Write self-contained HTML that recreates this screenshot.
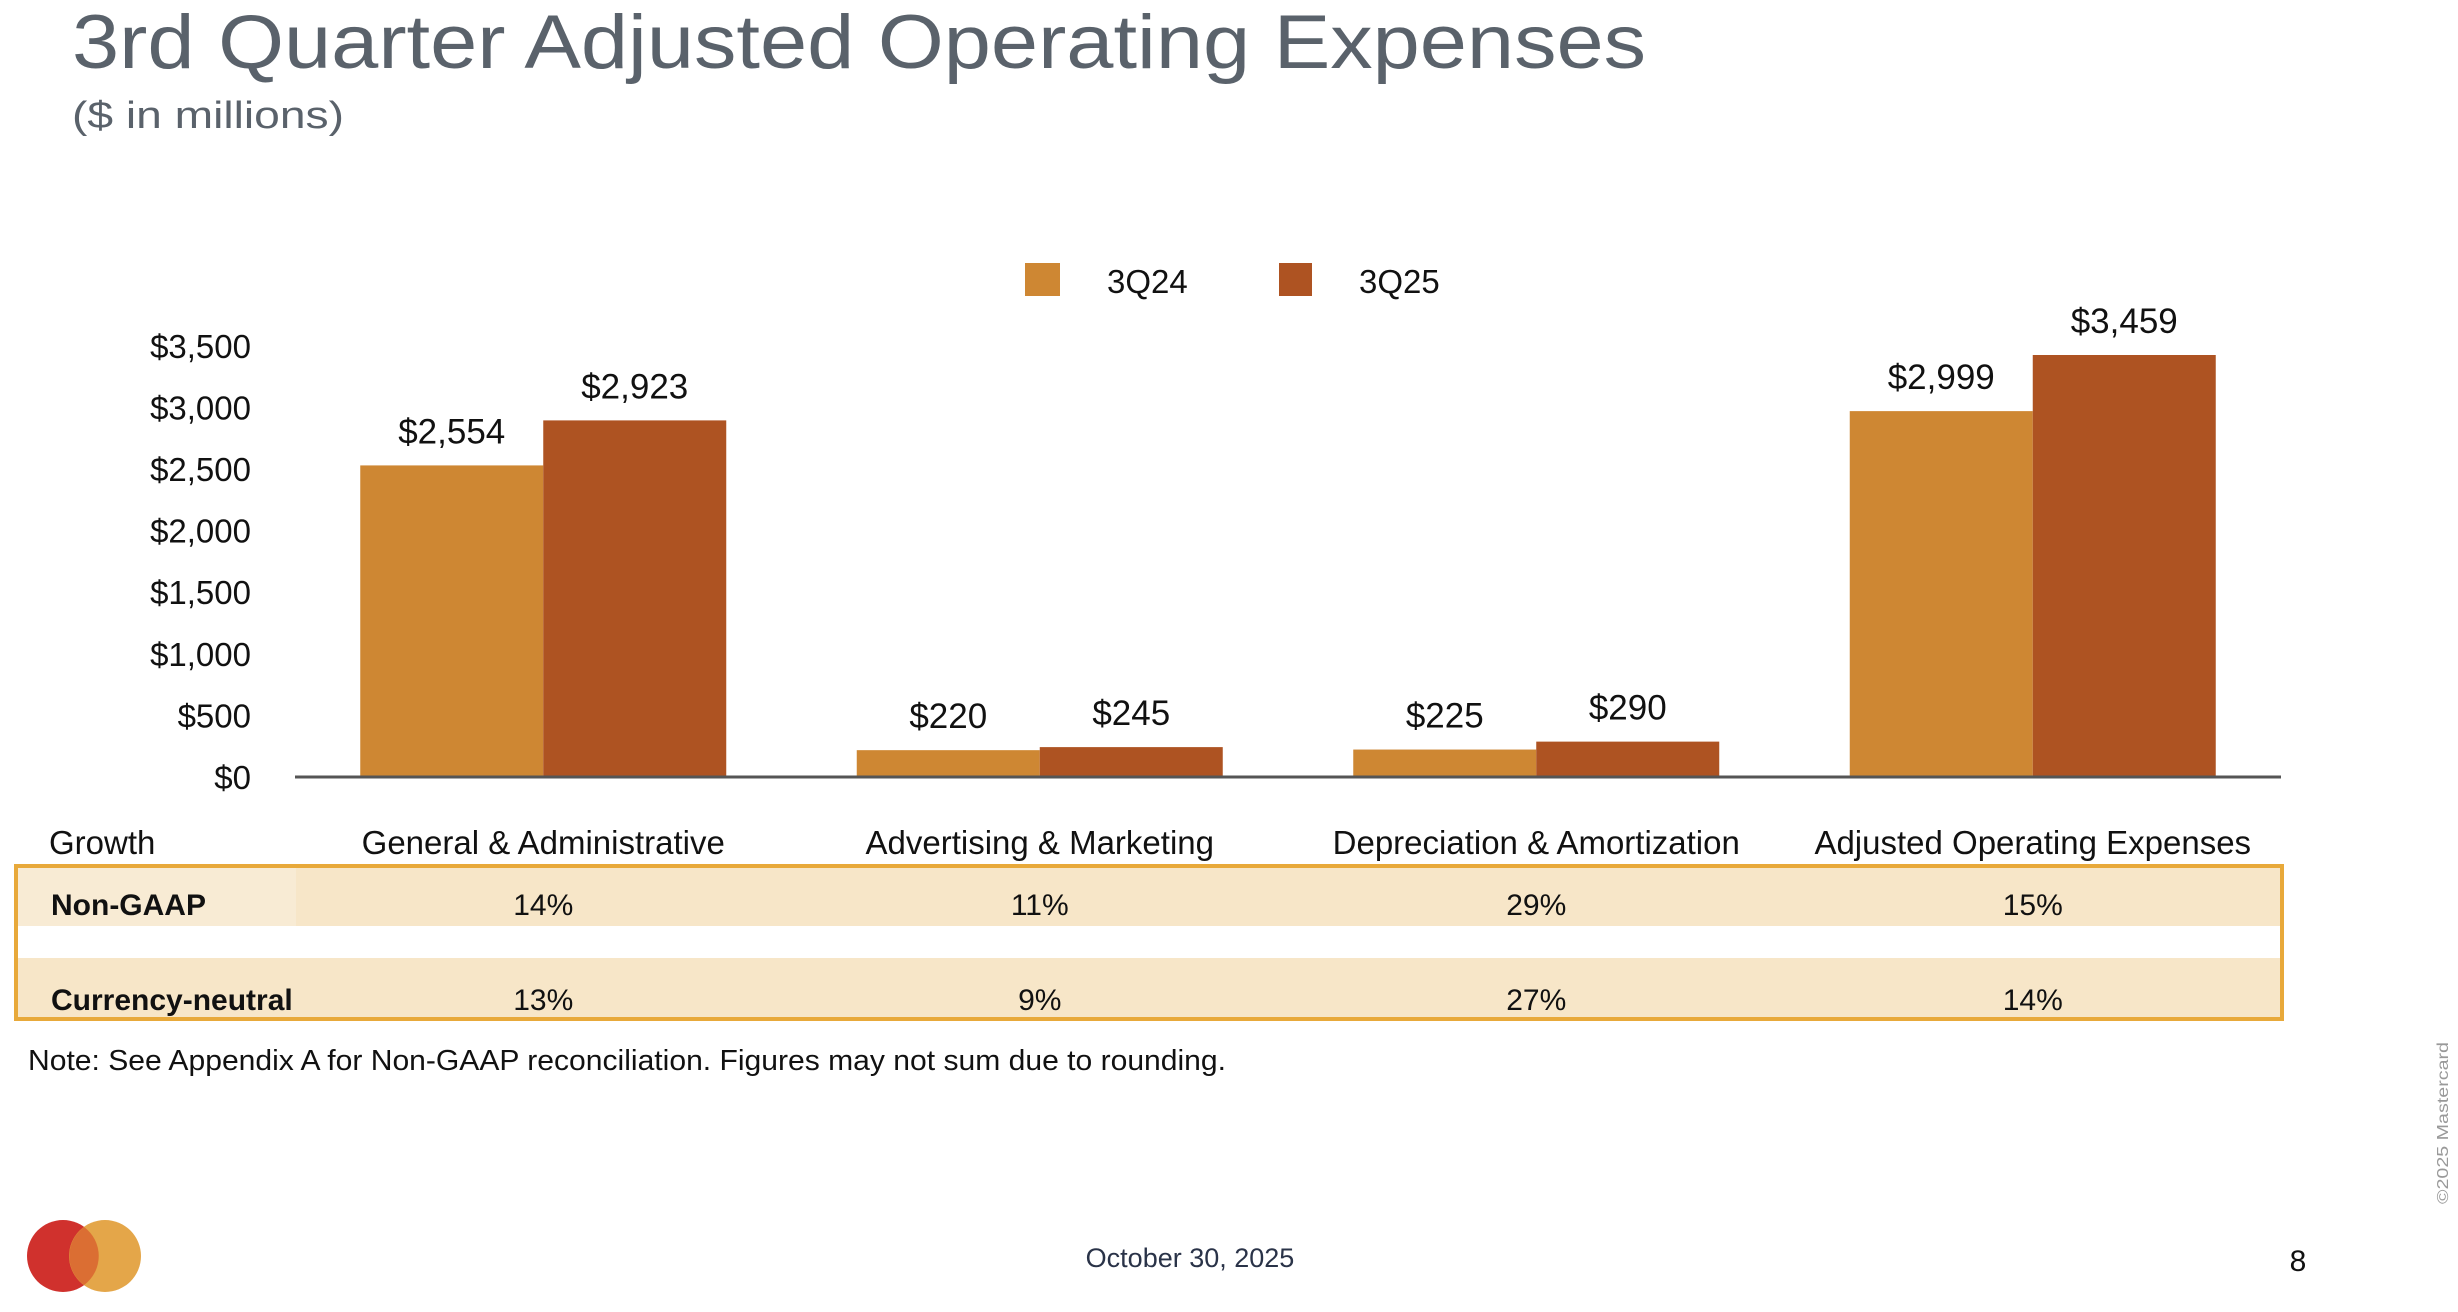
<!DOCTYPE html>
<html><head><meta charset="utf-8"><style>
html,body{margin:0;padding:0;background:#fff;}
svg{display:block;font-family:"Liberation Sans",sans-serif;}
</style></head><body>
<svg id="chart" width="2458" height="1312" viewBox="0 0 2458 1312" xmlns="http://www.w3.org/2000/svg">
<text x="72" y="68" font-size="76" fill="#5a626b" textLength="1574" lengthAdjust="spacingAndGlyphs">3rd Quarter Adjusted Operating Expenses</text>
<text x="72" y="128" font-size="38" fill="#5a626b" textLength="272" lengthAdjust="spacingAndGlyphs">($ in millions)</text>
<g>
<rect x="1025" y="263" width="35" height="33" fill="#CE8733"/>
<text x="1107" y="293" font-size="33" fill="#111">3Q24</text>
<rect x="1279" y="263" width="33" height="33" fill="#AE5322"/>
<text x="1359" y="293" font-size="33" fill="#111">3Q25</text>
</g>
<g>
<text x="49" y="854" font-size="33" fill="#111">Growth</text>
<rect x="16" y="866" width="2266" height="60" fill="#F7E6C8"/>
<rect x="16" y="866" width="280" height="60" fill="#F8EBD4"/>
<rect x="16" y="958" width="2266" height="61" fill="#F7E6C8"/>
<rect x="16" y="866" width="2266" height="153" fill="none" stroke="#E8A93A" stroke-width="4"/>
<text x="51" y="915" font-size="30" font-weight="bold" fill="#111">Non-GAAP</text>
<text x="51" y="1010" font-size="30" font-weight="bold" fill="#111">Currency-neutral</text>
</g>
<g id="plot"></g>
<text x="28" y="1070" font-size="29" fill="#111" textLength="1198" lengthAdjust="spacingAndGlyphs">Note: See Appendix A for Non-GAAP reconciliation. Figures may not sum due to rounding.</text>
<g>
<circle cx="63" cy="1256" r="36" fill="#D0312D"/>
<circle cx="105" cy="1256" r="36" fill="#E3A13F" opacity="0.95"/>
<path d="M84 1227 A36 36 0 0 1 84 1285 A36 36 0 0 1 84 1227Z" fill="#DB6E33"/>
</g>
<text x="1190" y="1267" font-size="27" fill="#2a3348" text-anchor="middle">October 30, 2025</text>
<text x="2298" y="1271" font-size="30" fill="#111" text-anchor="middle">8</text>
<text x="0" y="0" font-size="16" fill="#999" transform="translate(2448,1204) rotate(-90)" textLength="162" lengthAdjust="spacingAndGlyphs">©2025 Mastercard</text>
</svg>
<script>
const categories = ["General & Administrative","Advertising & Marketing","Depreciation & Amortization","Adjusted Operating Expenses"];
const series3Q24 = [2554, 220, 225, 2999];
const series3Q25 = [2923, 245, 290, 3459];
const valueLabels3Q24 = ["$2,554","$220","$225","$2,999"];
const valueLabels3Q25 = ["$2,923","$245","$290","$3,459"];
const yTicks = [0, 500, 1000, 1500, 2000, 2500, 3000, 3500];
const yTickLabels = ["$0","$500","$1,000","$1,500","$2,000","$2,500","$3,000","$3,500"];
const growthNonGaap = ["14%","11%","29%","15%"];
const growthCurrencyNeutral = ["13%","9%","27%","14%"];

const NS = "http://www.w3.org/2000/svg";
const plot = document.getElementById("plot");
const x0 = 295, x1 = 2281, yBase = 777, pxPer = 61.0/500, barW = 183;
const bandW = (x1 - x0) / categories.length;
const yScale = v => yBase - v * pxPer;
const xCenter = i => x0 + bandW * (i + 0.5);
function mk(tag, attrs, txt) {
  const e = document.createElementNS(NS, tag);
  for (const k in attrs) e.setAttribute(k, attrs[k]);
  if (txt !== undefined) e.textContent = txt;
  plot.appendChild(e);
  return e;
}
yTicks.forEach((t, i) => {
  const e = mk("text", {x: 251, y: yBase - t * (61.6/500) + 12, "font-size": 33, fill: "#111", "text-anchor": "end"}, yTickLabels[i]);
  
  
});
categories.forEach((c, i) => {
  const cx = xCenter(i);
  [[series3Q24, valueLabels3Q24, "#CE8733", cx - barW], [series3Q25, valueLabels3Q25, "#AE5322", cx]].forEach(([s, lbl, col, bx], k) => {
    const r = mk("rect", {x: bx, y: yScale(s[i]), width: barW, height: yBase - yScale(s[i]), fill: col});
    
    
    const t = mk("text", {x: bx + barW/2, y: yScale(s[i]) - 22, "font-size": 35, fill: "#111", "text-anchor": "middle"}, lbl[i]);
    
    
  });
  const h = mk("text", {x: cx, y: 854, "font-size": 33, fill: "#111", "text-anchor": "middle"}, c);
  
  
  const g1 = mk("text", {x: cx, y: 915, "font-size": 30, fill: "#111", "text-anchor": "middle"}, growthNonGaap[i]);
  
  
  const g2 = mk("text", {x: cx, y: 1010, "font-size": 30, fill: "#111", "text-anchor": "middle"}, growthCurrencyNeutral[i]);
  
  
});
const ax = mk("line", {x1: x0, x2: x1, y1: yBase, y2: yBase, stroke: "#555", "stroke-width": 3});


</script>
</body></html>
